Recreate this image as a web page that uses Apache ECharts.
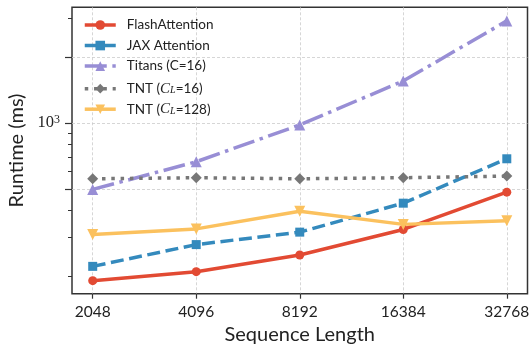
<!DOCTYPE html>
<html><head><meta charset="utf-8">
<script src="https://cdn.jsdelivr.net/npm/echarts@6/dist/echarts.min.js"></script>
<style>html,body{margin:0;padding:0;background:#fff}#c{width:530px;height:344px}</style>
</head><body><div id="c"></div>
<script>
const seqLengths = [2048, 4096, 8192, 16384, 32768];
const seriesNames = ['FlashAttention', 'JAX Attention', 'Titans (C=16)', 'TNT (C_L=16)', 'TNT (C_L=128)'];
const flashAttention = [191, 210, 250, 327, 484];
const jaxAttention = [222, 279, 318, 431, 687];
const titans = [498, 666, 980, 1555, 2923];
const tntCL16 = [557, 563, 557, 563, 573];
const tntCL128 = [310, 329, 396, 345, 358];
const yMajorTicks = [500, 1000, 2000];
const yMinorTicks = [200, 300, 400, 600, 700, 800, 900, 3000];
const yLabelTicks = [1000];

const font = 'Lato';
const chart = echarts.init(document.getElementById('c'), null, {renderer: 'canvas'});
function mk(name, data, color, type, symbol, size, rotate) {
  return {
    name, type: 'line', yAxisIndex: 0,
    data: seqLengths.map((x, i) => [x, data[i]]),
    symbol, symbolSize: size, symbolRotate: rotate || 0,
    showSymbol: true,
    lineStyle: {color, width: 3.5, type},
    itemStyle: {color, borderWidth: 0},
    emphasis: {disabled: true},
    animation: false
  };
}
const legendFmt = {
  'TNT (C_L=16)': 'TNT ({i|C}{sub|L}=16)',
  'TNT (C_L=128)': 'TNT ({i|C}{sub|L}=128)'
};
const legends = seriesNames.map((n, i) => ({
  orient: 'vertical', left: 83, top: 25 + 20.55 * i - 7, itemWidth: 31, itemHeight: 12, itemGap: 0, padding: 0,
  data: [n],
  lineStyle: {width: 3.5},
  formatter: nm => legendFmt[nm] || nm,
  textStyle: {fontFamily: font, fontSize: 13.5, color: '#222', lineHeight: 14, padding: [0, 0, 0, 6],
    rich: {
      i: {fontFamily: 'Liberation Serif', fontStyle: 'italic', fontSize: 15, color: '#222', lineHeight: 14},
      sub: {fontFamily: 'Liberation Serif', fontStyle: 'italic', fontSize: 10, color: '#222', verticalAlign: 'bottom', lineHeight: 8, padding: [6, 0, 0, 0]}
    }}
}));
chart.setOption({
  animation: false,
  grid: {left: 72, right: 2.5, top: 7.3, bottom: 50.3, show: true, borderColor: '#333', borderWidth: 1.5, backgroundColor: 'transparent', outerBoundsMode: 'none', containLabel: false},
  legend: legends,
  xAxis: {
    type: 'log', logBase: 2, min: 2048 / Math.pow(2, 0.2), max: 32768 * Math.pow(2, 0.2),
    axisLine: {show: false},
    axisTick: {show: true, customValues: seqLengths, length: 5, lineStyle: {color: '#333', width: 1.2}},
    axisLabel: {customValues: seqLengths, formatter: v => String(Math.round(v)), fontFamily: font, fontSize: 15.5, color: '#222', margin: 10},
    splitLine: {show: true, lineStyle: {color: '#cccccc', width: 0.8, type: [3, 2]}},
    minorTick: {show: false},
    name: 'Sequence Length', nameLocation: 'middle', nameGap: 30,
    nameTextStyle: {fontFamily: font, fontSize: 20, color: '#222'}
  },
  yAxis: [{
    type: 'log', min: 166.6, max: 3371, position: 'left',
    axisLine: {show: false},
    axisTick: {show: true, customValues: yMajorTicks, length: 7, lineStyle: {color: '#333', width: 1.2}},
    axisLabel: {customValues: yLabelTicks, formatter: () => '{b|10}{sup|3}', margin: 12,
      rich: {b: {fontFamily: 'Liberation Serif', fontSize: 16.5, color: '#222', lineHeight: 18},
             sup: {fontFamily: 'Liberation Serif', fontSize: 12, color: '#222', verticalAlign: 'top', lineHeight: 18, padding: [0, 0, 8, 0]}}},
    splitLine: {show: true, lineStyle: {color: '#cccccc', width: 0.8, type: [3, 2]}},
    name: 'Runtime (ms)', nameLocation: 'middle', nameGap: 40, nameRotate: 90,
    nameTextStyle: {fontFamily: font, fontSize: 20, color: '#222'}
  }, {
    type: 'log', min: 166.6, max: 3371, position: 'left',
    axisLine: {show: false},
    axisTick: {show: true, customValues: yMinorTicks, length: 4, lineStyle: {color: '#333', width: 1}},
    axisLabel: {show: false},
    splitLine: {show: false}
  }],
  series: [
    mk(seriesNames[0], flashAttention, '#E24A33', 'solid', 'circle', 9),
    mk(seriesNames[1], jaxAttention, '#348ABD', [13, 5.6], 'rect', 9),
    mk(seriesNames[2], titans, '#988ED5', [22, 5.6, 3.5, 5.6], 'triangle', 11),
    mk(seriesNames[3], tntCL16, '#777777', [3.5, 5.8], 'diamond', 11),
    mk(seriesNames[4], tntCL128, '#FBC15E', 'solid', 'triangle', 11, 180)
  ]
});
</script></body></html>
